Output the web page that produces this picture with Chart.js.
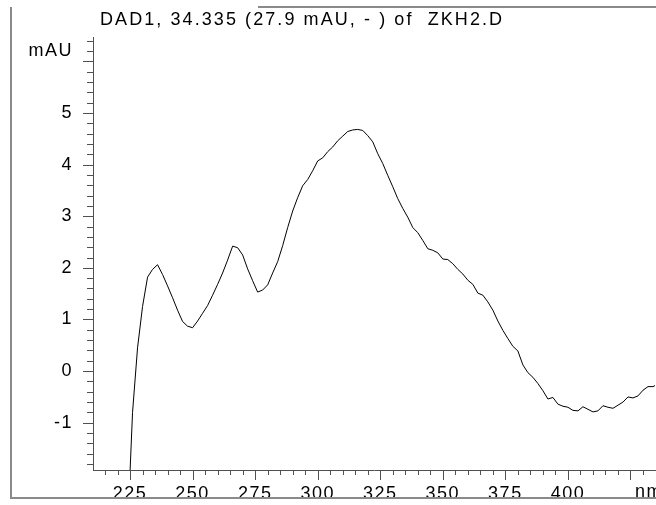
<!DOCTYPE html>
<html>
<head>
<meta charset="utf-8">
<script src="https://cdn.jsdelivr.net/npm/chart.js@4.4.0/dist/chart.umd.min.js"></script>
<style>
  html, body { margin: 0; padding: 0; background: #fff; overflow: hidden; }
  #wrap { width: 656px; height: 505px; }
</style>
</head>
<body>
<div id="wrap"><canvas id="spec" width="656" height="505"></canvas></div>
<script>
// spectrum (nm / mAU)
const wavelengths = [224, 226, 228, 230, 232, 234, 236, 238, 240, 242, 244, 246, 248, 250,
  252, 254, 256, 258, 260, 262, 264, 266, 268, 270, 272, 274, 276, 278, 280,
  282, 284, 286, 288, 290, 292, 294, 296, 298, 300, 302, 304, 306, 308, 310,
  312, 314, 316, 318, 320, 322, 324, 326, 328, 330, 332, 334, 336, 338, 340,
  342, 344, 346, 348, 350, 352, 354, 356, 358, 360, 362, 364, 366, 368, 370,
  372, 374, 376, 378, 380, 382, 384, 386, 388, 390, 392, 394, 396, 398, 400,
  402, 404, 406, 408, 410, 412, 414, 416, 418, 420, 422, 424, 426, 428, 430,
  432, 434, 436];
const absorbance = [-3.1, -0.8, 0.45, 1.25, 1.82, 1.97, 2.06, 1.87, 1.65, 1.42, 1.18, 0.96, 0.87, 0.84,
  0.97, 1.12, 1.27, 1.47, 1.68, 1.90, 2.15, 2.42, 2.39, 2.25, 1.98, 1.75, 1.53, 1.57, 1.67,
  1.90, 2.12, 2.43, 2.78, 3.10, 3.36, 3.59, 3.71, 3.88, 4.07, 4.13, 4.25, 4.34, 4.46, 4.55,
  4.64, 4.67, 4.68, 4.66, 4.56, 4.44, 4.21, 4.02, 3.79, 3.57, 3.34, 3.15, 2.98, 2.78, 2.68,
  2.53, 2.37, 2.34, 2.29, 2.17, 2.16, 2.08, 1.97, 1.88, 1.76, 1.68, 1.51, 1.47, 1.34, 1.18,
  0.97, 0.79, 0.63, 0.48, 0.39, 0.12, -0.03, -0.12, -0.24, -0.38, -0.54, -0.51, -0.64, -0.68, -0.70,
  -0.76, -0.77, -0.69, -0.74, -0.79, -0.77, -0.67, -0.70, -0.72, -0.66, -0.60, -0.50, -0.52, -0.48, -0.37,
  -0.30, -0.30, -0.25];

const xLabels = [225, 250, 275, 300, 325, 350, 375, 400];
const yLabels = [-1, 0, 1, 2, 3, 4, 5];
const titleText = 'DAD1, 34.335 (27.9 mAU, - ) of  ZKH2.D';
const xUnit = 'nm';
const yUnit = 'mAU';

const FONT = '"Liberation Sans", Arial, sans-serif';
const AXIS = '#505050';

function isOn(v, step) {
  return Math.abs(v / step - Math.round(v / step)) < 1e-6;
}

// chemstation style ticks, frame, title and unit labels
const decor = {
  id: 'decor',
  beforeDraw(chart) {
    chart.ctx.letterSpacing = '1.5px';
  },
  afterDraw(chart) {
    const ctx = chart.ctx;
    const xs = chart.scales.x, ys = chart.scales.y;
    const area = chart.chartArea;
    ctx.save();
    ctx.strokeStyle = AXIS;
    ctx.lineWidth = 1;
    ctx.beginPath();
    xs.ticks.forEach(t => {
      const px = Math.round(xs.getPixelForValue(t.value)) + 0.5;
      const len = isOn(t.value, 25) ? 10 : 5;
      ctx.moveTo(px, area.bottom);
      ctx.lineTo(px, area.bottom + len);
    });
    ys.ticks.forEach(t => {
      const py = Math.round(ys.getPixelForValue(t.value)) + 0.5;
      const len = isOn(t.value, 1) ? 10 : 6;
      ctx.moveTo(area.left, py);
      ctx.lineTo(area.left - len, py);
    });
    ctx.stroke();

    // outer frame
    ctx.strokeStyle = '#8a8a8a';
    ctx.lineWidth = 2;
    ctx.beginPath();
    ctx.moveTo(258, 7);
    ctx.lineTo(656, 7);
    ctx.moveTo(11, 7);
    ctx.lineTo(11, 498);
    ctx.lineTo(656, 498);
    ctx.stroke();

    ctx.fillStyle = '#000';
    ctx.font = '18px ' + FONT;
    ctx.textBaseline = 'alphabetic';
    ctx.textAlign = 'left';
    ctx.letterSpacing = '0px';
    const w = ctx.measureText(titleText).width;
    ctx.letterSpacing = ((402 - w) / (titleText.length - 1)).toFixed(2) + 'px';
    ctx.fillText(titleText, 100, 25);

    ctx.letterSpacing = '1.5px';
    ctx.textAlign = 'right';
    ctx.fillText(yUnit, 73, 56);
    ctx.textAlign = 'left';
    ctx.fillText(xUnit, 635, 497);
    ctx.restore();
  }
};

new Chart(document.getElementById('spec'), {
  type: 'line',
  data: {
    datasets: [{
      data: wavelengths.map((w, i) => ({ x: w, y: absorbance[i] })),
      borderColor: '#000',
      borderWidth: 1,
      pointRadius: 0,
      tension: 0,
      fill: false
    }]
  },
  options: {
    responsive: false,
    animation: false,
    events: [],
    layout: { padding: { top: 37, right: 0, bottom: 0, left: 0 } },
    plugins: { legend: { display: false }, tooltip: { enabled: false } },
    scales: {
      x: {
        type: 'linear',
        min: 210.2,
        max: 434.8,
        afterFit: s => { s.height = 35; },
        border: { color: AXIS, width: 1 },
        grid: { display: false, drawTicks: false },
        ticks: {
          stepSize: 5,
          includeBounds: false,
          autoSkip: false,
          maxRotation: 0,
          padding: 13,
          color: '#000',
          font: { family: FONT, size: 18 },
          callback: v => xLabels.includes(Math.round(v)) && isOn(v, 25) ? String(Math.round(v)) : ''
        }
      },
      y: {
        min: -1.915,
        max: 6.47,
        afterFit: s => { s.width = 93; },
        border: { color: AXIS, width: 1 },
        grid: { display: false, drawTicks: false },
        ticks: {
          stepSize: 0.2,
          includeBounds: false,
          autoSkip: false,
          padding: 20,
          color: '#000',
          font: { family: FONT, size: 18 },
          callback: v => isOn(v, 1) && yLabels.includes(Math.round(v)) ? String(Math.round(v)) : ''
        }
      }
    }
  },
  plugins: [decor]
});
</script>
</body>
</html>
